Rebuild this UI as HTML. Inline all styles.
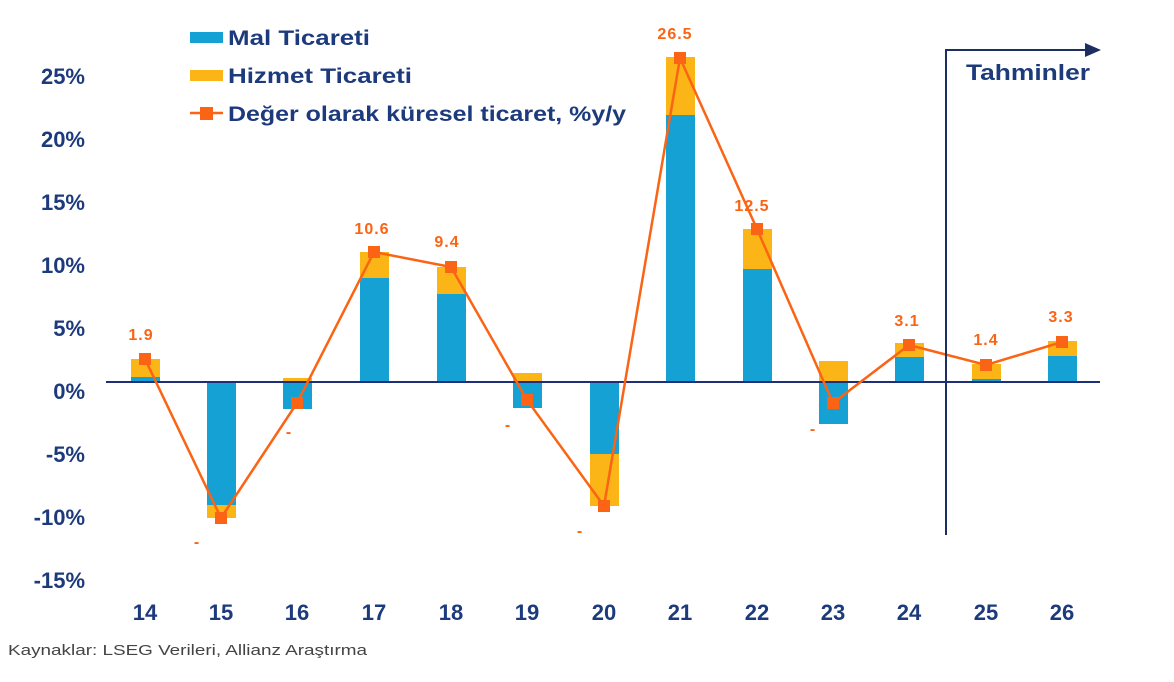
<!DOCTYPE html>
<html><head><meta charset="utf-8"><style>
html,body{margin:0;padding:0;background:#fff;}
svg{display:block;font-family:"Liberation Sans",sans-serif;}
</style></head><body>
<svg width="1174" height="682" viewBox="0 0 1174 682" xmlns="http://www.w3.org/2000/svg">
<g font-weight="bold" font-size="22" fill="#1c3a7c" text-anchor="end">
<text x="85" y="84">25%</text>
<text x="85" y="147">20%</text>
<text x="85" y="210">15%</text>
<text x="85" y="273">10%</text>
<text x="85" y="336">5%</text>
<text x="85" y="399">0%</text>
<text x="85" y="462">-5%</text>
<text x="85" y="525">-10%</text>
<text x="85" y="588">-15%</text>
</g>
<g>
<rect x="131" y="377" width="29" height="5" fill="#15a1d4"/><rect x="131" y="359" width="29" height="18" fill="#fbb517"/>
<rect x="207" y="382" width="29" height="123" fill="#15a1d4"/><rect x="207" y="505" width="29" height="13" fill="#fbb517"/>
<rect x="283" y="382" width="29" height="27" fill="#15a1d4"/><rect x="283" y="378" width="29" height="4" fill="#fbb517"/>
<rect x="360" y="278" width="29" height="104" fill="#15a1d4"/><rect x="360" y="252" width="29" height="26" fill="#fbb517"/>
<rect x="437" y="294" width="29" height="88" fill="#15a1d4"/><rect x="437" y="267" width="29" height="27" fill="#fbb517"/>
<rect x="513" y="382" width="29" height="26" fill="#15a1d4"/><rect x="513" y="373" width="29" height="9" fill="#fbb517"/>
<rect x="590" y="382" width="29" height="72" fill="#15a1d4"/><rect x="590" y="454" width="29" height="52" fill="#fbb517"/>
<rect x="666" y="115" width="29" height="267" fill="#15a1d4"/><rect x="666" y="57" width="29" height="58" fill="#fbb517"/>
<rect x="743" y="269" width="29" height="113" fill="#15a1d4"/><rect x="743" y="229" width="29" height="40" fill="#fbb517"/>
<rect x="819" y="382" width="29" height="42" fill="#15a1d4"/><rect x="819" y="361" width="29" height="21" fill="#fbb517"/>
<rect x="895" y="357" width="29" height="25" fill="#15a1d4"/><rect x="895" y="343" width="29" height="14" fill="#fbb517"/>
<rect x="972" y="379" width="29" height="3" fill="#15a1d4"/><rect x="972" y="364" width="29" height="15" fill="#fbb517"/>
<rect x="1048" y="356" width="29" height="26" fill="#15a1d4"/><rect x="1048" y="341" width="29" height="15" fill="#fbb517"/>
</g>
<line x1="106" y1="382" x2="1100" y2="382" stroke="#1c2f78" stroke-width="2"/>
<polyline fill="none" stroke="#fa6414" stroke-width="2.5" points="145,359 221,518 297,403 374,252 451,267 527,400 604,506 680,58 757,229 833,403 909,345 986,365 1062,342"/>
<g fill="#fa6414">
<rect x="139" y="353" width="12" height="12"/><rect x="215" y="512" width="12" height="12"/><rect x="291" y="397" width="12" height="12"/><rect x="368" y="246" width="12" height="12"/><rect x="445" y="261" width="12" height="12"/><rect x="521" y="394" width="12" height="12"/><rect x="598" y="500" width="12" height="12"/><rect x="674" y="52" width="12" height="12"/><rect x="751" y="223" width="12" height="12"/><rect x="827" y="397" width="12" height="12"/><rect x="903" y="339" width="12" height="12"/><rect x="980" y="359" width="12" height="12"/><rect x="1056" y="336" width="12" height="12"/>
</g>
<g font-weight="bold" font-size="16" fill="#fa6414" text-anchor="middle" letter-spacing="1">
<text x="141" y="340">1.9</text>
<text x="372" y="234">10.6</text>
<text x="447" y="247">9.4</text>
<text x="675" y="39">26.5</text>
<text x="752" y="211">12.5</text>
<text x="907" y="326">3.1</text>
<text x="986" y="345">1.4</text>
<text x="1061" y="322">3.3</text>
<text x="197" y="547">-</text><text x="289" y="437">-</text><text x="508" y="430">-</text><text x="580" y="536">-</text><text x="813" y="434">-</text>
</g>
<line x1="946" y1="50" x2="946" y2="535" stroke="#1c2f60" stroke-width="2"/>
<line x1="945" y1="50" x2="1088" y2="50" stroke="#1c2f60" stroke-width="2"/>
<polygon points="1085,43 1101,50 1085,57" fill="#1c2f60"/>
<text x="966" y="80" font-weight="bold" font-size="22" fill="#1c3a7c" textLength="124" lengthAdjust="spacingAndGlyphs">Tahminler</text>
<g font-weight="bold" font-size="22" fill="#1c3a7c" text-anchor="middle">
<text x="145" y="620">14</text><text x="221" y="620">15</text><text x="297" y="620">16</text><text x="374" y="620">17</text><text x="451" y="620">18</text><text x="527" y="620">19</text><text x="604" y="620">20</text><text x="680" y="620">21</text><text x="757" y="620">22</text><text x="833" y="620">23</text><text x="909" y="620">24</text><text x="986" y="620">25</text><text x="1062" y="620">26</text>
</g>
<rect x="190" y="32" width="33" height="11" fill="#15a1d4"/>
<rect x="190" y="70" width="33" height="11" fill="#fbb517"/>
<line x1="190" y1="113" x2="223" y2="113" stroke="#fa6414" stroke-width="2.5"/>
<rect x="200" y="107" width="13" height="13" fill="#fa6414"/>
<g font-weight="bold" font-size="21" fill="#1c3a7c">
<text x="228" y="45" textLength="142" lengthAdjust="spacingAndGlyphs">Mal Ticareti</text>
<text x="228" y="83" textLength="184" lengthAdjust="spacingAndGlyphs">Hizmet Ticareti</text>
<text x="228" y="121" textLength="398" lengthAdjust="spacingAndGlyphs">Değer olarak küresel ticaret, %y/y</text>
</g>
<text x="8" y="655" font-size="15" fill="#444" textLength="359" lengthAdjust="spacingAndGlyphs">Kaynaklar: LSEG Verileri, Allianz Araştırma</text>
</svg>
</body></html>
